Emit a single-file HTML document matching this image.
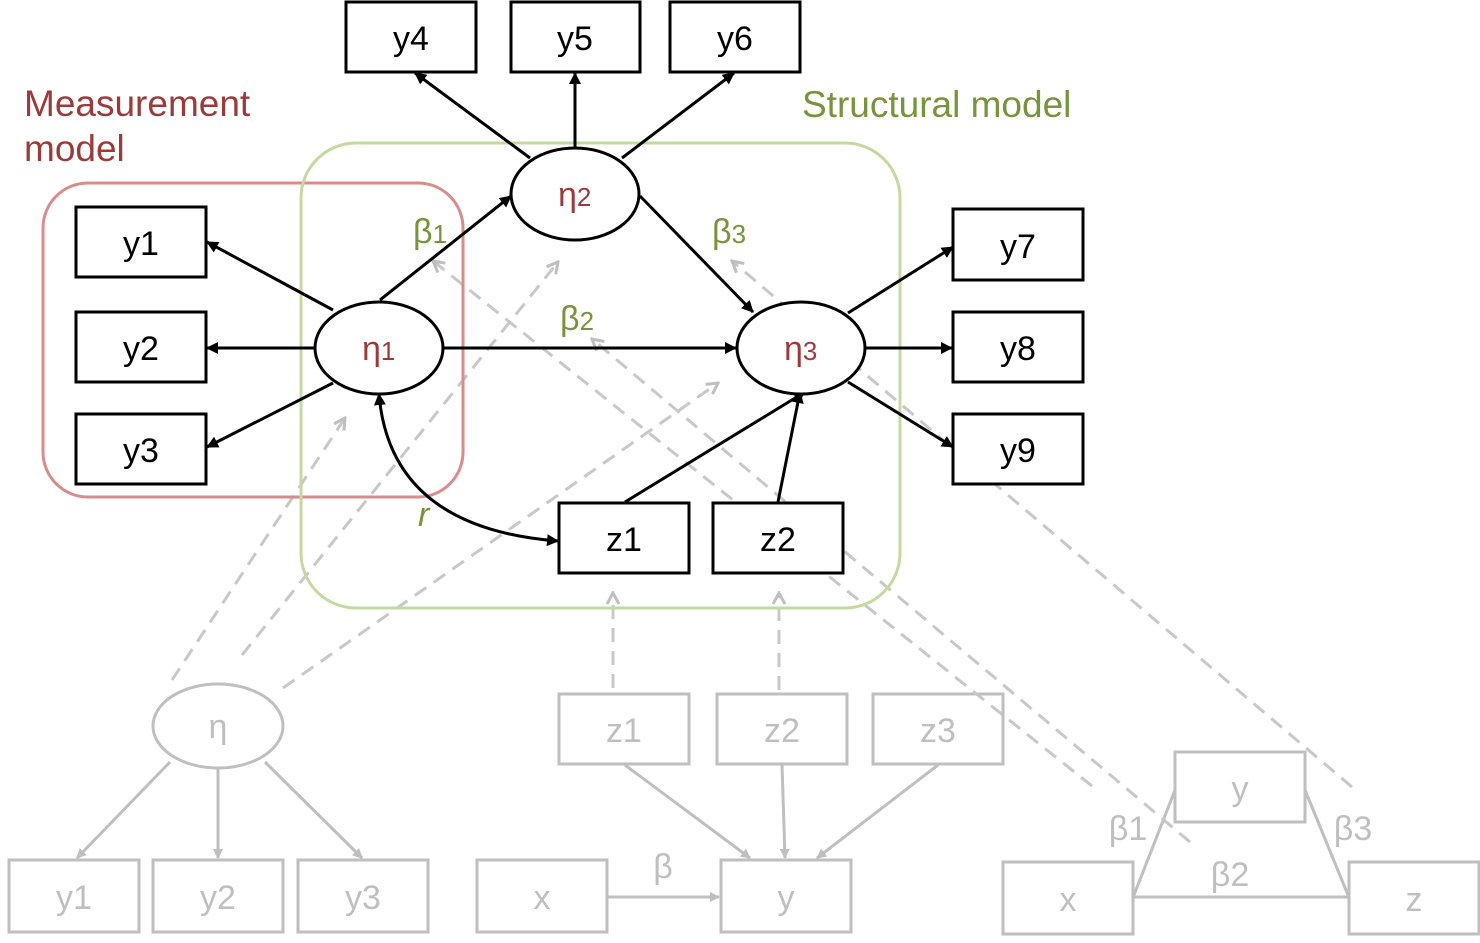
<!DOCTYPE html>
<html><head><meta charset="utf-8"><style>
html,body{margin:0;padding:0;background:#fff;}
svg{display:block;font-family:"Liberation Sans",sans-serif;}
</style></head><body>
<svg width="1480" height="943" viewBox="0 0 1480 943">
<defs>
<marker id="ab" markerWidth="12" markerHeight="12" refX="11" refY="6" orient="auto-start-reverse" markerUnits="userSpaceOnUse"><path d="M0,0 L12,6 L0,12 z" fill="#000"/></marker>
<marker id="ag" markerWidth="14" markerHeight="14" refX="12" refY="7" orient="auto" markerUnits="userSpaceOnUse"><path d="M1,1 L12,7 L1,13" fill="none" stroke="#bfbfbf" stroke-width="3"/></marker>
<marker id="agf" markerWidth="10" markerHeight="10" refX="9" refY="5" orient="auto" markerUnits="userSpaceOnUse"><path d="M0,0 L10,5 L0,10 z" fill="#bfbfbf"/></marker>
</defs>

<g stroke="#bfbfbf" stroke-width="3" fill="none">
<line x1="170" y1="762" x2="77" y2="858" marker-end="url(#agf)"/>
<line x1="218" y1="768" x2="218" y2="858" marker-end="url(#agf)"/>
<line x1="265" y1="762" x2="362" y2="858" marker-end="url(#agf)"/>
<line x1="625" y1="765" x2="750" y2="858" marker-end="url(#agf)"/>
<line x1="782" y1="765" x2="785" y2="858" marker-end="url(#agf)"/>
<line x1="938" y1="765" x2="817" y2="858" marker-end="url(#agf)"/>
<line x1="607" y1="897" x2="719" y2="897" marker-end="url(#agf)"/>
<line x1="1134" y1="895" x2="1175" y2="790"/>
<line x1="1348" y1="895" x2="1305" y2="790"/>
<line x1="1134" y1="897" x2="1348" y2="897"/>
</g>
<g fill="none" stroke="#bfbfbf" stroke-width="3">
<ellipse cx="218" cy="726" rx="65" ry="42"/>
<rect x="9" y="860" width="130" height="72"/>
<rect x="153" y="860" width="130" height="72"/>
<rect x="298" y="860" width="130" height="72"/>
<rect x="559" y="694" width="130" height="70"/>
<rect x="717" y="694" width="130" height="70"/>
<rect x="873" y="694" width="130" height="70"/>
<rect x="477" y="860" width="130" height="72"/>
<rect x="721" y="860" width="130" height="72"/>
<rect x="1175" y="752" width="130" height="70"/>
<rect x="1003" y="862" width="130" height="72"/>
<rect x="1349" y="862" width="130" height="72"/>
</g>
<g fill="#bfbfbf" font-size="34" text-anchor="middle">
<text x="218" y="738">η</text>
<text x="74" y="909">y1</text><text x="218" y="909">y2</text><text x="363" y="909">y3</text>
<text x="624" y="742">z1</text><text x="782" y="742">z2</text><text x="938" y="742">z3</text>
<text x="542" y="909">x</text><text x="786" y="909">y</text>
<text x="1240" y="800">y</text><text x="1068" y="911">x</text><text x="1414" y="911">z</text>
<text x="663" y="878">β</text>
<text x="1128" y="840">β1</text><text x="1353" y="840">β3</text><text x="1230" y="886">β2</text>
</g>

<g stroke="#c8c8c8" stroke-width="3" stroke-dasharray="14,9" fill="none">
<line x1="172" y1="680" x2="345" y2="418" marker-end="url(#ag)"/>
<line x1="242" y1="655" x2="558" y2="262" marker-end="url(#ag)"/>
<line x1="283" y1="688" x2="718" y2="383" marker-end="url(#ag)"/>
<line x1="613" y1="688" x2="613" y2="593" marker-end="url(#ag)"/>
<line x1="779" y1="690" x2="779" y2="593" marker-end="url(#ag)"/>
<line x1="1092" y1="786" x2="433" y2="261" marker-end="url(#ag)"/>
<line x1="1190" y1="842" x2="592" y2="339" marker-end="url(#ag)"/>
<line x1="1352" y1="787" x2="732" y2="261" marker-end="url(#ag)"/>
</g>

<rect x="43" y="183" width="420" height="314" rx="45" fill="none" stroke="#d98c8c" stroke-width="3"/>
<rect x="301" y="143" width="599" height="465" rx="55" fill="none" stroke="#c4d9a0" stroke-width="3"/>
<text x="24" y="116" font-size="37" fill="#9b3a3a">Measurement</text>
<text x="24" y="161" font-size="37" fill="#9b3a3a">model</text>
<text x="802" y="117" font-size="37" fill="#77933c">Structural model</text>

<g stroke="#000" stroke-width="3" fill="none">
<line x1="333" y1="310" x2="207" y2="242" marker-end="url(#ab)"/>
<line x1="315" y1="348" x2="207" y2="348" marker-end="url(#ab)"/>
<line x1="333" y1="383" x2="207" y2="447" marker-end="url(#ab)"/>
<line x1="380" y1="300" x2="511" y2="196" marker-end="url(#ab)"/>
<line x1="443" y1="348" x2="736" y2="348" marker-end="url(#ab)"/>
<line x1="640" y1="196" x2="753" y2="312" marker-end="url(#ab)"/>
<line x1="530" y1="158" x2="415" y2="73" marker-end="url(#ab)"/>
<line x1="575" y1="147" x2="575" y2="73" marker-end="url(#ab)"/>
<line x1="622" y1="158" x2="734" y2="73" marker-end="url(#ab)"/>
<line x1="848" y1="313" x2="953" y2="247" marker-end="url(#ab)"/>
<line x1="865" y1="348" x2="952" y2="348" marker-end="url(#ab)"/>
<line x1="848" y1="382" x2="953" y2="447" marker-end="url(#ab)"/>
<line x1="625" y1="502" x2="805" y2="392" marker-end="url(#ab)"/>
<line x1="778" y1="502" x2="800" y2="392" marker-end="url(#ab)"/>
<path d="M379,394 Q390,528 558,541" marker-start="url(#ab)" marker-end="url(#ab)"/>
</g>

<g fill="#fff" stroke="#000" stroke-width="3">
<ellipse cx="379" cy="348" rx="64" ry="46"/>
<ellipse cx="575" cy="194" rx="64" ry="46"/>
<ellipse cx="801" cy="348" rx="64" ry="46"/>
<rect x="346" y="2" width="130" height="70"/>
<rect x="511" y="2" width="129" height="70"/>
<rect x="670" y="2" width="130" height="70"/>
<rect x="76" y="207" width="130" height="70"/>
<rect x="76" y="312" width="130" height="70"/>
<rect x="76" y="414" width="130" height="70"/>
<rect x="953" y="209" width="130" height="71"/>
<rect x="953" y="312" width="130" height="70"/>
<rect x="953" y="414" width="130" height="70"/>
<rect x="559" y="503" width="130" height="70"/>
<rect x="713" y="503" width="130" height="70"/>
</g>
<g font-size="34" text-anchor="middle" fill="#000">
<text x="411" y="50">y4</text><text x="575" y="50">y5</text><text x="735" y="50">y6</text>
<text x="141" y="255">y1</text><text x="141" y="360">y2</text><text x="141" y="462">y3</text>
<text x="1018" y="258">y7</text><text x="1018" y="360">y8</text><text x="1018" y="462">y9</text>
<text x="624" y="551">z1</text><text x="778" y="551">z2</text>
</g>
<g font-size="34" fill="#9b3a3a">
<text x="362" y="360">η<tspan font-size="26">1</tspan></text>
<text x="558" y="206">η<tspan font-size="26">2</tspan></text>
<text x="784" y="360">η<tspan font-size="26">3</tspan></text>
</g>
<g font-size="34" fill="#77933c">
<text x="413" y="243">β<tspan font-size="26">1</tspan></text>
<text x="712" y="243">β<tspan font-size="26">3</tspan></text>
<text x="560" y="330">β<tspan font-size="26">2</tspan></text>
<text x="418" y="526" font-style="italic">r</text>
</g>
</svg>
</body></html>
